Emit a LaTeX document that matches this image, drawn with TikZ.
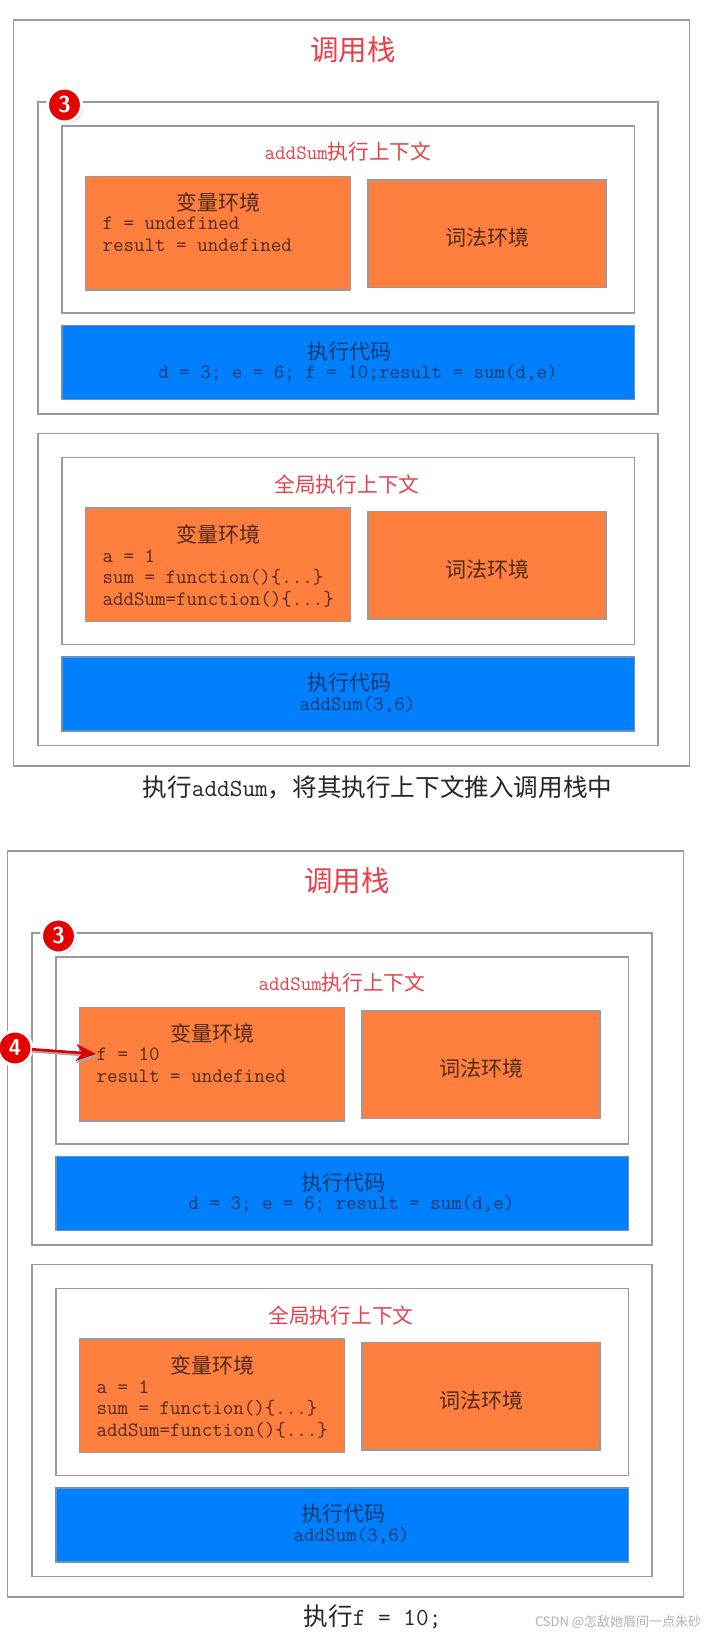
\documentclass[tikz,border=0pt]{standalone}
\usepackage{fontspec}
\newfontfamily\cjk{Noto Sans CJK SC}
\setmonofont{Latin Modern Mono}
\usetikzlibrary{arrows.meta,shadows}
\definecolor{frame}{HTML}{9A9A9A}
\definecolor{orangefill}{HTML}{FF7F3F}
\definecolor{bluefill}{HTML}{007FFF}
\definecolor{redtxt}{HTML}{E8404A}
\definecolor{ontext}{HTML}{4F2A14}
\definecolor{bltext}{HTML}{103A6C}
\newcommand{\tts}{\ttfamily\fontsize{20.4}{20.4}\selectfont}
\tikzset{
  x=1pt,y=-1pt,
  every node/.style={inner sep=0pt,outer sep=0pt},
  pbox/.style={draw=frame,line width=1.3pt,anchor=north west},
  outerframe/.style={pbox,fill=white,minimum width=676.2pt,minimum height=746pt},
  stackbox/.style={pbox,fill=white,minimum width=620pt,minimum height=312pt},
  ctxbox/.style={pbox,fill=white,minimum width=572.5pt,minimum height=187pt},
  varbox/.style={pbox,fill=orangefill,minimum width=265pt,minimum height=113.5pt},
  lexbox/.style={pbox,fill=orangefill,minimum width=238pt,minimum height=107.5pt},
  codebox/.style={pbox,fill=bluefill,draw=frame!70!bluefill,minimum width=572.5pt,minimum height=74pt},
  titletxt/.style={text=redtxt,font=\cjk\fontsize{28.5}{28.5}\selectfont},
  ctxtxt/.style={text=redtxt,font=\cjk\fontsize{20.7}{20.7}\selectfont},
  ontxt/.style={text=ontext,font=\cjk\fontsize{21}{21}\selectfont},
  bltxt/.style={text=bltext,font=\cjk\fontsize{21}{21}\selectfont},
  onmono/.style={text=ontext,font=\tts,anchor=west},
  blmono/.style={text=bltext,font=\tts},
  captxt/.style={text=black!85,font=\fontsize{24.6}{24.6}\selectfont},
  badge/.style={circle,fill=red!90!black,draw=white,line width=3pt,minimum size=34pt,text=white,
    font=\sffamily\bfseries\fontsize{23}{23}\selectfont,drop shadow={shadow xshift=1.5pt,shadow yshift=-1.5pt,opacity=.45}},
}
\begin{document}
\begin{tikzpicture}
\useasboundingbox (0,0) rectangle (716,1634);
\fill[white] (0,0) rectangle (716,1634);
% ===== first panel
\node[outerframe] (o1) at (13.3,20) {};
\node[stackbox] (s1a) at (38,102) {};
\node[ctxbox] (c1a) at (62,126) {};
\node[varbox] (v1a) at (85.5,176.5) {};
\node[lexbox] (l1a) at (368,180) {};
\node[codebox] (b1a) at (62,325.5) {};
\node[stackbox] (s1b) at (38,433.5) {};
\node[ctxbox] (c1b) at (62,457.5) {};
\node[varbox] (v1b) at (85.5,508) {};
\node[lexbox] (l1b) at (368,511.5) {};
\node[codebox] (b1b) at (62,657) {};
\node[titletxt] (t1) at (353,50) {调用栈};
\node[badge] (n1) at (64.5,105) {3};
\node[ctxtxt] (ct1a) at (348,152) {{\tts addSum}执行上下文};
\node[ontxt] (vt1a) at (218.5,202) {变量环境};
\node[onmono] (va1a) at (102.7,223) {f = undefined};
\node[onmono] (vb1a) at (102.7,245.5) {result = undefined};
\node[ontxt] (lt1a) at (487.7,237) {词法环境};
\node[bltxt] (bt1a) at (349,352) {执行代码};
\node[blmono] (bc1a) at (358,373) {d = 3; e = 6; f = 10;result = sum(d,e)};
\node[ctxtxt] (ct1b) at (347,484.5) {全局执行上下文};
\node[ontxt] (vt1b) at (218.5,534) {变量环境};
\node[onmono] (va1b) at (102.7,556) {a = 1};
\node[onmono] (vb1b) at (102.7,577.5) {sum = function()\{...\}};
\node[onmono] (vc1b) at (102.7,599) {addSum=function()\{...\}};
\node[ontxt] (lt1b) at (487.7,569) {词法环境};
\node[bltxt] (bt1b) at (349,683) {执行代码};
\node[blmono] (bc1b) at (357.5,705) {addSum(3,6)};
\node[captxt] (cap1) at (377.5,787) {\cjk 执行{\ttfamily\fontsize{24.6}{24.6}\selectfont addSum}，将其执行上下文推入调用栈中};
% ===== second panel
\begin{scope}[shift={(-6,831)}]
\node[outerframe] (o2) at (13.3,20) {};
\node[stackbox] (s2a) at (38,102) {};
\node[ctxbox] (c2a) at (62,126) {};
\node[varbox] (v2a) at (85.5,176.5) {};
\node[lexbox] (l2a) at (368,180) {};
\node[codebox] (b2a) at (62,325.5) {};
\node[stackbox] (s2b) at (38,433.5) {};
\node[ctxbox] (c2b) at (62,457.5) {};
\node[varbox] (v2b) at (85.5,508) {};
\node[lexbox] (l2b) at (368,511.5) {};
\node[codebox] (b2b) at (62,657) {};
\node[titletxt] (t2) at (353,50) {调用栈};
\node[badge] (n2) at (64.5,105) {3};
\node[ctxtxt] (ct2a) at (348,152) {{\tts addSum}执行上下文};
\node[ontxt] (vt2a) at (218.5,202) {变量环境};
\node[onmono] (va2a) at (102.7,223) {f = 10};
\node[onmono] (vb2a) at (102.7,245.5) {result = undefined};
\node[ontxt] (lt2a) at (487.7,237) {词法环境};
\node[bltxt] (bt2a) at (349,352) {执行代码};
\node[blmono] (bc2a) at (357.5,373) {d = 3; e = 6; result = sum(d,e)};
\node[ctxtxt] (ct2b) at (347,484.5) {全局执行上下文};
\node[ontxt] (vt2b) at (218.5,534) {变量环境};
\node[onmono] (va2b) at (102.7,556) {a = 1};
\node[onmono] (vb2b) at (102.7,577.5) {sum = function()\{...\}};
\node[onmono] (vc2b) at (102.7,599) {addSum=function()\{...\}};
\node[ontxt] (lt2b) at (487.7,569) {词法环境};
\node[bltxt] (bt2b) at (349,683) {执行代码};
\node[blmono] (bc2b) at (357.5,705) {addSum(3,6)};
\end{scope}
\coordinate (tip) at (96,1054);
\coordinate (tipshadow) at (97.5,1056);
\node[badge] (n4) at (15,1048) {4};
\draw[-{Stealth[length=21pt,width=18pt]},draw=black!35,line width=3pt] (n4.east) ++(0,3) -- (tipshadow);
\draw[-{Stealth[length=20pt,width=17pt]},draw=red!85!black,line width=2.6pt] (n4) -- (tip);
\node[captxt] (cap2) at (372.5,1617) {\cjk 执行{\ttfamily\fontsize{24.6}{24.6}\selectfont f = 10;}};
\node[text=black!30,font=\cjk\fontsize{13}{13}\selectfont,anchor=west] (wm) at (535,1622) {CSDN @怎敌她眉间一点朱砂};
\end{tikzpicture}
\end{document}
